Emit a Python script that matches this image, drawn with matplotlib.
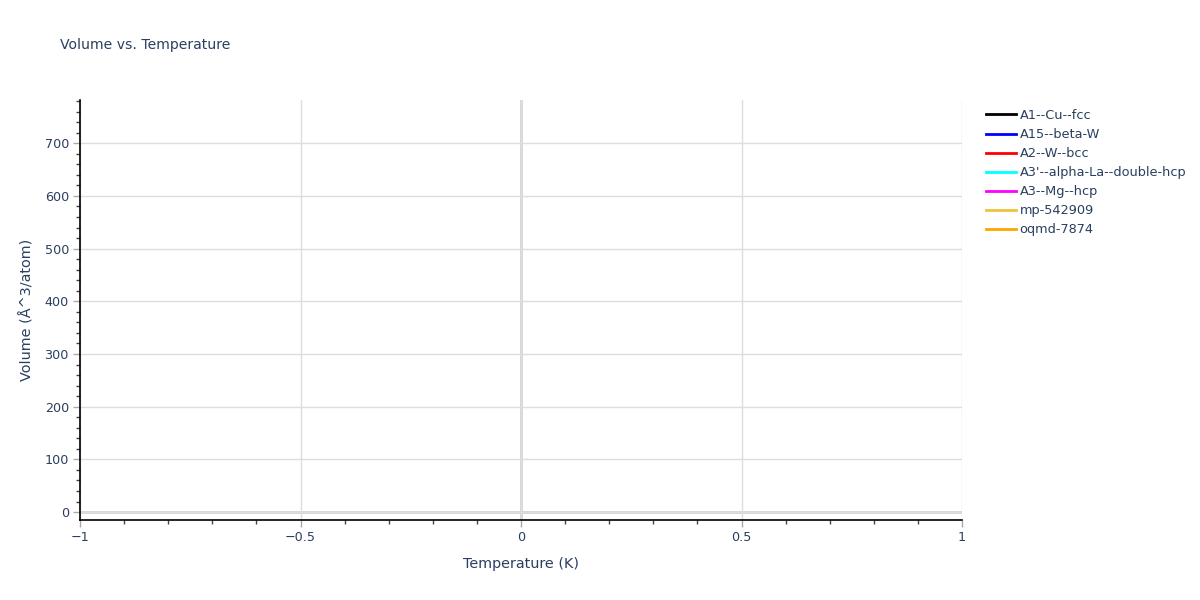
import matplotlib
matplotlib.use("Agg")
import matplotlib.pyplot as plt
from matplotlib.ticker import MultipleLocator

# Data (the traces carry no visible points)
series_names = ["A1--Cu--fcc", "A15--beta-W", "A2--W--bcc", "A3'--alpha-La--double-hcp",
                "A3--Mg--hcp", "mp-542909", "oqmd-7874"]
series_colors = ["#000000", "#0000FF", "#FF0000", "#00FFFF", "#FF00FF", "#EDC43E", "#FFA500"]
series_x = [[] for _ in series_names]
series_y = [[] for _ in series_names]
x_ticks = [-1, -0.5, 0, 0.5, 1]
x_ticklabels = ["\u22121", "\u22120.5", "0", "0.5", "1"]
y_ticks = [0, 100, 200, 300, 400, 500, 600, 700]

TXT = "#2a3f5f"
plt.rcParams['font.family'] = ['DejaVu Sans']

fig = plt.figure(figsize=(12, 6), dpi=100)
ax = fig.add_axes([80/1200, 1-520/600, (962-80)/1200, 420/600])

for name, c, xs, ys in zip(series_names, series_colors, series_x, series_y):
    ax.plot(xs, ys, color=c, lw=2, label=name)

ax.set_xlim(-1, 1)
ax.set_ylim(-15, 782)

ax.set_xticks(x_ticks)
ax.set_xticklabels(x_ticklabels)
ax.set_yticks(y_ticks)
ax.xaxis.set_minor_locator(MultipleLocator(0.1))
ax.yaxis.set_minor_locator(MultipleLocator(20))

ax.grid(True, which='major', color='#dddddd', lw=1)
ax.set_axisbelow(True)
ax.axvline(0, color='#d4d4d4', lw=2, zorder=0.5)
ax.axhline(0, color='#d4d4d4', lw=2, zorder=0.5)

for s in ['top', 'right']:
    ax.spines[s].set_visible(False)
for s in ['left', 'bottom']:
    ax.spines[s].set_color('#000000')
    ax.spines[s].set_linewidth(1.2)

ax.tick_params(which='major', direction='out', length=5, width=1, color='#aaaaaa',
               labelcolor=TXT, labelsize=9.2, pad=3)
ax.tick_params(which='minor', direction='out', length=3, width=1, color='#444444')

ax.set_xlabel("Temperature (K)", color=TXT, fontsize=10.4, labelpad=9)
ax.set_ylabel("Volume (Å^3/atom)", color=TXT, fontsize=10.4, labelpad=7)

fig.text(60/1200, 1-45/600, "Volume vs. Temperature", color=TXT, fontsize=10.1,
         ha='left', va='center')

fig.legend(loc='upper left', bbox_to_anchor=(986/1200, 1-109/600), frameon=False,
           fontsize=9.3, handlelength=2.3, handletextpad=0.3, labelspacing=0.47,
           labelcolor=TXT, borderaxespad=0, borderpad=0)

fig.savefig("out.png", dpi=100)
